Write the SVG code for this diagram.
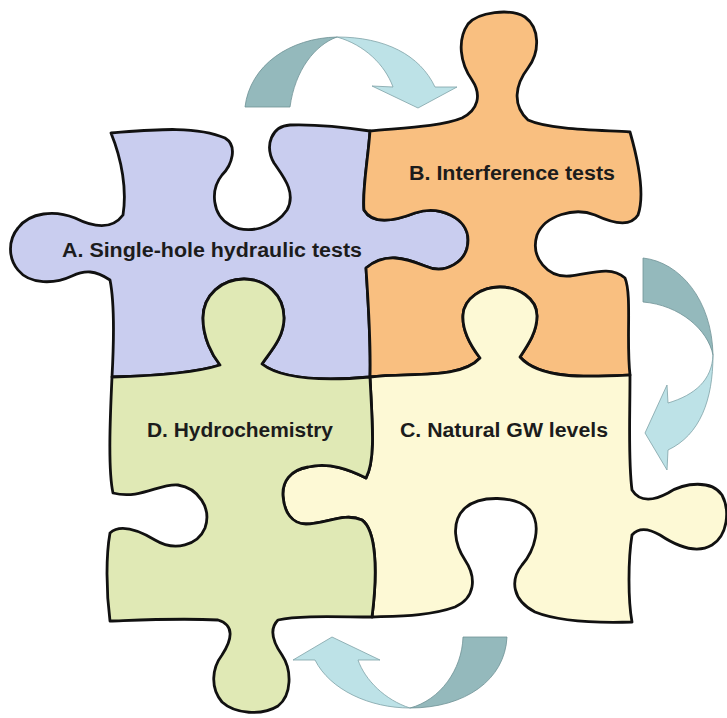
<svg xmlns="http://www.w3.org/2000/svg" width="727" height="718" viewBox="0 0 727 718">
<style>
.piece{stroke:#111;stroke-width:2.8;stroke-linejoin:round;stroke-linecap:round}
.lbl{font-family:"Liberation Sans",Arial,sans-serif;font-weight:bold;font-size:20px;fill:#1c1c1c}
.dark{fill:#94b9bc;stroke:#6e9296;stroke-width:0.8}
.light{fill:#bde2e7;stroke:#7fa2a7;stroke-width:0.8}
</style>
<rect width="727" height="718" fill="#ffffff"/>
<g id="pieceA">
<path class="piece" fill="#c9cdef" d="M111,133 C150,130 195,125 225,138 C238,146 232,165 222,175 C210,190 212,215 230,225 C248,235 275,228 287,210 C297,192 282,175 274,163 C264,145 272,126 290,125 C320,124 350,128 370,131 C368,160 362,190 364,210 C372,224 392,222 415,213 C440,205 468,218 468,240 C468,262 445,275 425,266 C405,258 385,252 366,268 C368,300 371,340 370,377 C335,380 285,382 262,364 C270,352 284,338 284,318 C284,295 266,279 244,279 C222,279 203,295 203,318 C203,338 212,355 220,365 C195,373 150,376 112,377 C114,340 114,300 110,280 C95,270 85,270 72,276 C55,284 30,285 18,270 C8,258 8,240 18,228 C30,212 55,210 75,218 C95,228 112,230 123,215 C127,190 122,160 111,133 Z"/>
<text class="lbl" x="62" y="257" textLength="300" lengthAdjust="spacingAndGlyphs">A. Single-hole hydraulic tests</text>
</g>
<g id="pieceB">
<path class="piece" fill="#f9bf80" d="M370,131 C400,128 440,127 462,118 C478,110 482,95 472,80 C460,63 457,40 468,24 C478,12 510,8 525,17 C540,28 540,52 528,68 C515,85 512,105 528,120 C550,130 600,130 630,132 C638,160 645,195 638,215 C630,228 610,222 595,215 C575,207 545,215 537,235 C530,258 548,278 570,276 C590,274 610,265 625,278 C632,295 626,340 630,375 C590,377 540,380 520,357 C528,345 537,332 537,316 C537,298 518,287 500,287 C482,287 464,298 463,315 C462,330 470,345 480,358 C460,380 410,372 370,377 C371,340 368,300 366,268 C385,252 405,258 425,266 C445,275 468,262 468,240 C468,218 440,205 415,213 C392,222 372,224 364,210 C362,190 368,160 370,131 Z"/>
<text class="lbl" x="409" y="180" textLength="206" lengthAdjust="spacingAndGlyphs">B. Interference tests</text>
</g>
<g id="pieceC">
<path class="piece" fill="#fdf9d5" d="M370,377 C410,372 460,380 480,358 C470,345 462,330 463,315 C464,298 482,287 500,287 C518,287 537,298 537,316 C537,332 528,345 520,357 C540,380 590,377 630,375 C630,420 628,460 632,490 C640,503 655,500 668,493 C685,482 712,480 722,495 C730,510 728,535 712,545 C695,555 675,545 660,535 C648,528 638,528 632,535 C628,560 628,600 632,622 C600,623 560,622 535,612 C512,600 510,580 522,565 C535,550 542,525 530,510 C515,495 480,495 465,508 C450,522 455,545 465,560 C477,578 475,598 455,607 C430,616 400,616 372,617 C378,570 376,530 362,520 C345,512 325,524 306,524 C292,524 284,512 283,496 C282,482 290,470 308,467 C330,462 350,470 366,478 C376,460 372,420 370,377 Z"/>
<text class="lbl" x="400" y="437" textLength="208" lengthAdjust="spacingAndGlyphs">C. Natural GW levels</text>
</g>
<g id="pieceD">
<path class="piece" fill="#e0e9b5" d="M112,377 C150,376 195,373 220,365 C212,355 203,338 203,318 C203,295 222,279 244,279 C266,279 284,295 284,318 C284,338 270,352 262,364 C285,382 335,380 370,377 C372,420 376,460 366,478 C350,470 330,462 308,467 C290,470 282,482 283,496 C284,512 292,524 306,524 C325,524 345,512 362,520 C376,530 378,570 372,617 C340,617 300,615 278,620 C268,630 275,645 282,655 C292,670 292,695 278,706 C262,716 235,714 222,702 C210,688 212,668 222,655 C232,640 235,625 218,620 C180,618 140,620 110,621 C106,590 106,555 110,533 C120,524 138,530 155,540 C175,552 198,545 205,528 C212,508 198,488 178,485 C160,483 140,500 113,493 C108,470 110,420 112,377 Z"/>
<text class="lbl" x="147" y="437" textLength="186" lengthAdjust="spacingAndGlyphs">D. Hydrochemistry</text>
</g>
<g id="connectors">
<g id="arrowAB">
<path class="dark" d="M245,107 C250,65 290,38 337,37 C315,45 295,70 290,107 Z"/>
<path class="light" d="M337,37 C385,37 420,55 435,87 L457,87 L418,108 L372,86 L393,87 C385,65 365,45 337,37 Z"/>
</g>
<g id="arrowBC">
<path class="dark" d="M643,258 C680,262 712,300 713,355 C708,330 680,305 643,302 Z"/>
<path class="light" d="M713,355 C713,400 700,435 668,450 L667,470 L645,433 L667,385 L668,403 C695,395 712,380 713,355 Z"/>
</g>
<g id="arrowCD">
<path class="dark" d="M507,637 C505,680 465,708 410,708 C440,700 462,670 463,637 Z"/>
<path class="light" d="M410,708 C370,708 330,690 315,660 L293,660 L332,637 L380,660 L358,660 C365,680 385,700 410,708 Z"/>
</g>
</g>
</svg>
